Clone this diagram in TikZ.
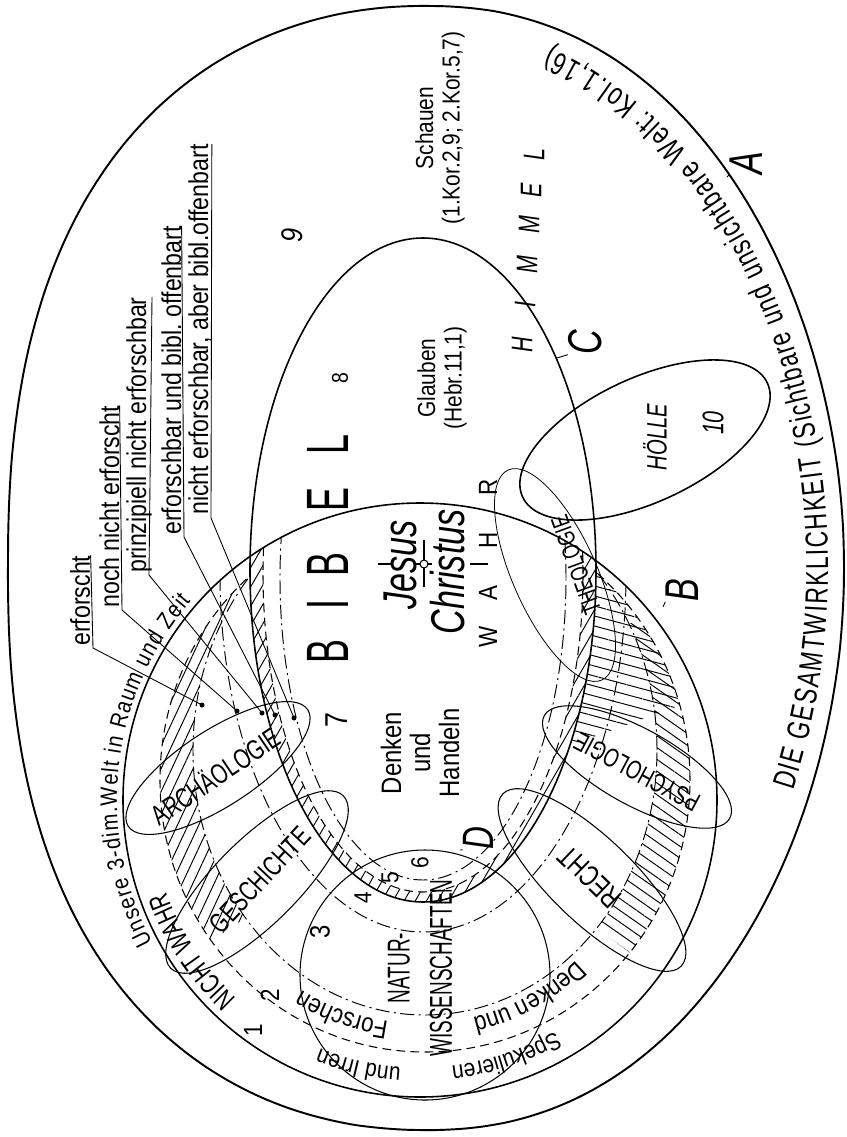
\documentclass[tikz,border=0pt]{standalone}
\usepackage{fontspec}
\setmainfont{Liberation Sans}[FakeStretch=0.85]
\newfontfamily\condfont{Liberation Sans}[FakeStretch=0.72]
\newfontfamily\narrowfont{Liberation Sans}[FakeStretch=0.6]
\usetikzlibrary{decorations.text,patterns.meta}
\tikzset{
  rim_line/.style={line width=1.1pt},
  main_line/.style={line width=0.9pt},
  thin_line/.style={line width=0.6pt},
  faint_line/.style={line width=0.45pt},
  dash_line/.style={line width=0.6pt, dash pattern=on 5pt off 3pt},
  dot_line/.style={line width=0.55pt, dash pattern=on 8pt off 2.5pt on 1.2pt off 2.5pt},
  hatch/.style={pattern={Lines[angle=#1,distance=5.5pt,line width=0.55pt]}},
  txt/.style={inner sep=0pt, font=\fontsize{#1}{#1}\selectfont},
  itxt/.style={inner sep=0pt, font=\fontsize{#1}{#1}\selectfont\itshape},
  ctxt/.style={inner sep=0pt, font=\condfont\fontsize{#1}{#1}\selectfont},
  citxt/.style={inner sep=0pt, font=\condfont\fontsize{#1}{#1}\selectfont\itshape},
  big_txt/.style={inner sep=0pt, font=\narrowfont\fontsize{34}{34}\selectfont},
  legend_txt/.style={inner sep=0pt, rotate=90, anchor=base west, font=\fontsize{15.5}{15.5}\selectfont},
  arc_fit/.style 2 args={decorate, decoration={text along path, text align=fit to path, text={|\fontsize{#1}{#1}\selectfont|#2}}},
  arc_mid/.style 2 args={decorate, decoration={text along path, text align=center, text={|\fontsize{#1}{#1}\selectfont|#2}}},
  carc_fit/.style 2 args={decorate, decoration={text along path, text align=fit to path, text={|\condfont\fontsize{#1}{#1}\selectfont|#2}}},
  carc_mid/.style 2 args={decorate, decoration={text along path, text align=center, text={|\condfont\fontsize{#1}{#1}\selectfont|#2}}},
  leader/.style={line width=0.5pt},
}
\begin{document}
\begin{tikzpicture}[x=0.02cm, y=0.02cm]
\useasboundingbox (0,0) rectangle (847,-1137);
\fill[white] (0,0) rectangle (847,-1137);

% hatched band between dashed and dash-dotted curve
\begin{scope}
  \clip (420,-800) circle [radius=297];
  \clip (425,-780) ellipse [x radius=265, y radius=272];
  \clip (-10,10) -- (-10,-1150) -- (860,-1150) -- (860,10) -- cycle
        (657,-750) arc [start angle=0, end angle=-360, x radius=232, y radius=265] -- cycle;
  \clip (-10,10) -- (-10,-1150) -- (860,-1150) -- (860,10) -- cycle
        (596,-570) arc [start angle=0, end angle=-360, x radius=173, y radius=332] -- cycle;
  \fill[hatch=65] (420,-800) -- ++(106:420) arc [start angle=106, end angle=214, radius=420] -- cycle;
  \fill[hatch=-35] (420,-800) -- ++(-36:420) arc [start angle=-36, end angle=40, radius=420] -- cycle;
\end{scope}
\begin{scope}
  \clip (420,-800) circle [radius=297];
  \clip (425,-780) ellipse [x radius=265, y radius=272];
  \clip (-10,10) -- (-10,-1150) -- (860,-1150) -- (860,10) -- cycle
        (596,-570) arc [start angle=0, end angle=-360, x radius=173, y radius=332] -- cycle;
  \fill[hatch=-15] (420,-800) -- ++(20:420) arc [start angle=20, end angle=75, radius=420] -- cycle;
\end{scope}
% hatched strip just inside the Bible ellipse
\begin{scope}
  \clip (420,-800) circle [radius=297];
  \clip (423,-570) ellipse [x radius=173, y radius=332];
  \clip (-10,10) -- (-10,-1150) -- (860,-1150) -- (860,10) -- cycle
        (583,-574) arc [start angle=0, end angle=-360, x radius=160, y radius=318] -- cycle;
  \fill[hatch=60] (-10,10) rectangle (860,-1150);
\end{scope}

% A: total reality (slightly squarer on the left)
\draw[rim_line] plot[domain=1:358, samples=120, smooth cycle]
  ({426+418*sign(cos(\x))*pow(abs(cos(\x)),2/(2.17-0.17*cos(\x)))},
   {-568+562*sign(sin(\x))*pow(abs(sin(\x)),2/(2.17-0.17*cos(\x)))});
% B: 3-dim world, C: Bible
\draw[main_line] (420,-800) circle [radius=297];
\draw[main_line] (423,-570) ellipse [x radius=173, y radius=332];
\draw[thin_line] (425,-975) circle [radius=125];

% limits inside B, outside C
\begin{scope}
  \clip (420,-800) circle [radius=297];
  \clip (-10,10) -- (-10,-1150) -- (860,-1150) -- (860,10) -- cycle
        (596,-570) arc [start angle=0, end angle=-360, x radius=173, y radius=332] -- cycle;
  \draw[dash_line] (425,-780) ellipse [x radius=265, y radius=272];
  \draw[dot_line] (425,-750) ellipse [x radius=232, y radius=265];
  \draw[dot_line] (423,-575) ellipse [x radius=203, y radius=357];
\end{scope}
% limits inside B and C
\begin{scope}
  \clip (420,-800) circle [radius=297];
  \clip (423,-570) ellipse [x radius=173, y radius=332];
  \draw[dash_line] (423,-574) ellipse [x radius=160, y radius=318];
  \draw[dot_line] (423,-578) ellipse [x radius=143, y radius=302];
\end{scope}

% fields of knowledge
\draw[thin_line, rotate around={33:(218,-768)}] (218,-768) ellipse [x radius=107, y radius=38];
\draw[thin_line, rotate around={45:(257,-882)}] (257,-882) ellipse [x radius=122, y radius=42];
\draw[thin_line, rotate around={-29:(637,-767)}] (637,-767) ellipse [x radius=106, y radius=38];
\draw[thin_line, rotate around={-44:(592,-880)}] (592,-880) ellipse [x radius=124, y radius=42];
\draw[faint_line, rotate around={-66:(555,-575)}] (555,-575) ellipse [x radius=115, y radius=42];
\draw[main_line, rotate around={25:(645,-440)}] (645,-440) ellipse [x radius=135, y radius=62];

\node[ctxt=16, rotate=34] at (215,-775) {ARCHÄOLOGIE};
\node[ctxt=16, rotate=47] at (260,-880) {GESCHICHTE};
\node[ctxt=15, rotate=152] at (637,-772) {PSYCHOLOGIE};
\node[ctxt=17, rotate=136] at (590,-877) {RECHT};
\node[ctxt=14, rotate=110] at (576,-565) {THEOLOGIE};
\node[citxt=16, rotate=90] at (655,-437) {HÖLLE};
\node[citxt=17, rotate=90] at (713,-423) {10};

% Bible region
\foreach \ch/\yy in {B/652,I/605,B/565,E/500,L/445}
  \node[big_txt, rotate=90] at (328,-\yy) {\ch};
\node[citxt=27, rotate=90] at (400,-565) {Jesus};
\node[citxt=27, rotate=90] at (448,-572) {Christus};
\draw[thin_line] (424,-564) circle [radius=4];
\draw[thin_line] (424,-540) -- (424,-560) (424,-568) -- (424,-587);
\draw[thin_line] (378,-564) -- (392,-564) (416,-564) -- (420,-564) (428,-564) -- (432,-564);
\foreach \ch/\yy in {W/637,A/593,H/540,R/487}
  \node[txt=15, rotate=90] at (488,-\yy) {\ch};
\draw[thin_line] (470,-564) -- (488,-564);
\node[rotate=90, inner sep=0pt, align=center, font=\fontsize{16}{16.5}\selectfont] at (420,-753) {Denken\\und\\Handeln};
\node[txt=18, rotate=90] at (337,-720) {7};
\node[rotate=90, inner sep=0pt, align=center, font=\narrowfont\fontsize{18}{24}\selectfont] at (420,-968) {NATUR-\\WISSENSCHAFTEN};
\node[txt=16, rotate=90] at (320,-932) {3};
\node[txt=14, rotate=90] at (363,-898) {4};
\node[txt=14, rotate=90] at (390,-878) {5};
\node[txt=14, rotate=90] at (420,-863) {6};
\node[txt=15, rotate=90] at (253,-1030) {1};
\node[txt=15, rotate=90] at (270,-995) {2};
\node[rotate=90, inner sep=0pt, align=center, font=\fontsize{14}{15}\selectfont] at (442,-378) {Glauben\\(Hebr.11,1)};
\node[rotate=90, inner sep=0pt, align=center, font=\fontsize{14}{15}\selectfont] at (440,-128) {Schauen\\(1.Kor.2,9; 2.Kor.5,7)};
\node[txt=13, rotate=90] at (340,-378) {8};
\node[itxt=17, rotate=90] at (292,-235) {9};
\foreach \ch/\xx/\yy in {H/522/345, I/525/305, M/527/265, M/529/225, E/531/190, L/534/155}
  \node[citxt=17, rotate=90] at (\xx,-\yy) {\ch};

% letters A-D with short leaders
\node[citxt=27, rotate=90] (lblC) at (585,-342) {C};
\node[citxt=27, rotate=90] (lblB) at (682,-590) {B};
\node[citxt=27, rotate=90] (lblA) at (746,-163) {A};
\node[citxt=25, rotate=90] (lblD) at (478,-838) {D};
\coordinate (onC) at (557,-358);
\coordinate (onB) at (663,-607);
\coordinate (onA) at (727,-177);
\coordinate (onD) at (460,-850);
\draw[leader] (onC) -- (lblC.north west);
\draw[leader] (onB) -- (lblB.north west);
\draw[leader] (onA) -- (lblA.north west);
\draw[leader] (onD) -- (lblD.north west);

% texts along curves
\path[arc_fit={13.5}{Unsere 3-dim.Welt in Raum und Zeit}] (420,-800) ++(208:303) arc [start angle=208, end angle=139, radius=303];
\path[carc_mid={16}{NICHT WAHR}] (420,-800) ++(240:270) arc [start angle=240, end angle=187, radius=270];
\path[arc_mid={14}{Spekulieren}] (420,-800) ++(-56:268) arc [start angle=-56, end angle=-87, radius=268];
\path[arc_mid={14}{und Irren}] (420,-800) ++(-88:268) arc [start angle=-88, end angle=-118, radius=268];
\path[arc_mid={15}{Denken und}] (420,-800) ++(-40:224) arc [start angle=-40, end angle=-82, radius=224];
\path[arc_mid={15}{Forschen}] (420,-800) ++(-92:224) arc [start angle=-92, end angle=-128, radius=224];
\path[carc_fit={18}{DIE GESAMTWIRKLICHKEIT (Sichtbare und unsichtbare Welt: Kol.1,16)}] (426,-568) ++(-24:402 and 547) arc [start angle=-24, end angle=72, x radius=402, y radius=547];

% legend with leaders to the zones
\node[legend_txt] (lg1) at (90,-646) {erforscht};
\node[legend_txt] (lg2) at (119,-608) {noch nicht erforscht};
\node[legend_txt] (lg3) at (146,-573) {prinzipiell nicht erforschbar};
\node[legend_txt] (lg4) at (181,-535) {erforschbar und bibl.\ offenbart};
\node[legend_txt] (lg5) at (208,-515) {nicht erforschbar, aber bibl.offenbart};
\coordinate (u1) at (93,-648);
\coordinate (u2) at (122,-610);
\coordinate (u3) at (149,-575);
\coordinate (u4) at (184,-537);
\coordinate (u5) at (211,-518);
\draw[leader] (u1) -- (lg1.south east);
\draw[leader] (u2) -- (lg2.south east);
\draw[leader] (u3) -- (lg3.south east);
\draw[leader] (u4) -- (lg4.south east);
\draw[leader] (u5) -- (lg5.south east);
\coordinate (d1) at (202,-705);
\coordinate (d2) at (237,-711);
\coordinate (d3) at (262,-713);
\coordinate (d4) at (275,-715);
\coordinate (d5) at (294,-718);
\foreach \i in {1,...,5} {
  \draw[leader] (u\i) -- (d\i);
  \fill (d\i) circle [radius=2.5];
}
\end{tikzpicture}
\end{document}
